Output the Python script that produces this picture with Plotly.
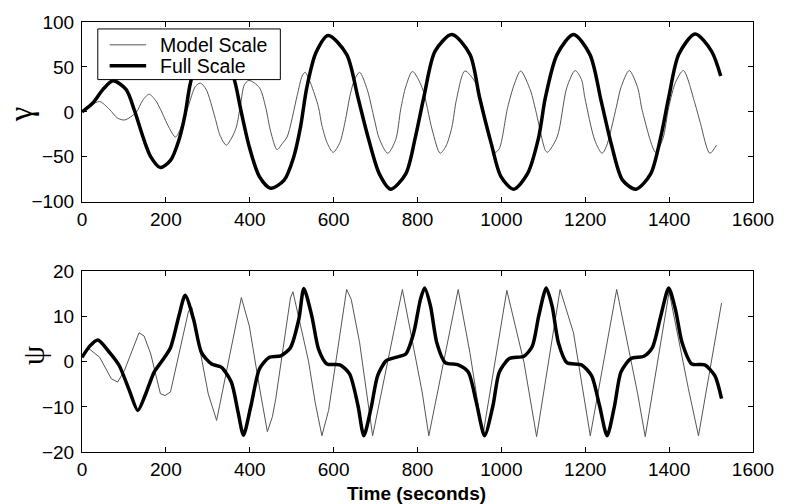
import plotly.graph_objects as go
from plotly.subplots import make_subplots

# ---------------- data ----------------
full_gamma_t = [0, 27, 50, 74, 105, 125, 148, 164, 187, 211, 231, 246, 258, 280, 311, 340,
                364, 379, 399, 423, 450, 482, 505, 521, 536, 558, 587, 631, 658, 682, 709,
                736, 772, 795, 815, 842, 882, 925, 948, 976, 999, 1029, 1062, 1089, 1105,
                1133, 1172, 1211, 1238, 1262, 1289, 1321, 1356, 1380, 1399, 1423, 1462,
                1501, 1523]
full_gamma = [0, 10.5, 25, 34.5, 25, 1.6, -31.5, -50, -62, -54, -31.5, -2.4, 31, 65, 78, 65,
              34.5, 1.6, -39, -72, -85, -76, -50, -17, 27, 66, 85, 64, 16, -28, -69,
              -86, -69, -28, 16, 67.6, 86, 64, 16, -35.6, -72, -86, -69, -28, 16,
              64, 86, 64, 12, -35.6, -76, -86, -69, -28, 16, 64, 86.7,
              67.6, 40]

model_gamma_t = [0, 20, 42, 65, 85, 102, 129, 145, 160, 175, 187, 207, 223, 238, 254, 270,
                 282, 296, 317, 329, 344, 358, 368, 378, 387, 398, 423, 438, 450, 465, 478,
                 489, 513, 525, 532, 545, 564, 572, 585, 599, 615, 627, 640, 650, 662, 680,
                 697, 709, 729, 748, 760, 772, 788, 811, 835, 854, 868, 882, 893, 913, 940,
                 968, 985, 995, 1015, 1031, 1046, 1070, 1082, 1105, 1110, 1133, 1156, 1176,
                 1191, 1199, 1223, 1240, 1250, 1274, 1285, 1305, 1325, 1336, 1368, 1385,
                 1399, 1415, 1434, 1462, 1474, 1497, 1513]
model_gamma = [0, 7, 11.5, 3, -7, -9, -0.5, 13, 19.7, 13, 3, -17, -28, -15, 7, 28,
               32, 25, -6, -26, -37, -28, -17, 8, 30, 35, 27, 5, -22, -42, -35,
               -28, 18, 40, 44, 32, 5, -15, -35, -45, -34, -11.6, 20, 36, 44, 25,
               -8, -30, -46, -31, 3, 28, 45, 27, -20, -46, -38, -17, 14, 45.5, 31,
               -20, -45, -41, 5, 31, 45.5, 23, 1.3, -43, -45, -28, 27, 46,
               36, 16, -32, -46, -39, 5, 27, 46, 27, 1.3, -45, -30,
               5, 32.6, 46, 8.6, -11.6, -46, -37]

full_psi_t = [0, 19, 38, 66, 89, 113, 133, 152, 172, 191, 211, 231, 246, 266, 285, 309, 332,
              356, 372, 385, 403, 423, 446, 474, 497, 517, 529, 548, 564, 584, 615, 638,
              658, 672, 689, 705, 725, 748, 772, 791, 807, 817, 831, 846, 866, 897, 921,
              940, 960, 980, 995, 1019, 1054, 1074, 1089, 1107, 1121, 1136, 1156, 1191,
              1215, 1234, 1252, 1270, 1285, 1309, 1340, 1360, 1380, 1399, 1415, 1431,
              1454, 1485, 1509, 1525]
full_psi = [0.95, 3.5, 4.8, 2, -0.9, -6.4, -10.8, -7.1, -2.3, 0.2, 3.1, 10.1, 14.7, 9.4, 2, -0.5, -1.2,
            -4.5, -11.1, -16.3, -9.7, -1.6, 0.95, 1.3, 3.1, 9.4, 16.2, 10.1, 2.8, -0.5, -0.7, -2.7,
            -9.7, -16.4, -10.4, -3.1, 0.2, 0.95, 1.7, 6.4, 13.8, 16.3, 12.3, 4.2, -0.2, -0.7, -2.3,
            -8.9, -16.4, -9.7, -2.3, 0.7, 1.2, 3.5, 10.1, 16.3, 12.3, 4.2, -0.2, -0.7,
            -3.1, -9.7, -16.4, -9.7, -2.3, 0.7, 1.2, 3.1, 10.1, 16.3, 11.6, 4.2,
            -0.5, -0.7, -3.1, -8.2]

model_psi_t = [0, 15, 42, 70, 85, 101, 136, 148, 164, 187, 198, 211, 254, 262, 301, 321,
               380, 399, 423, 442, 454, 462, 497, 503, 540, 556, 572, 588, 631, 642, 662,
               693, 764, 811, 827, 897, 925, 956, 1013, 1054, 1084, 1140, 1172, 1212,
               1275, 1325, 1343, 1400, 1446, 1470, 1525]
model_psi = [1, 3, 1, -3.8, -4.5, -2, 6.4, 5.7, 1.7, -7.1, -7.5, -6.7, 11.2, 12, -7.1, -13,
             14.2, 7.9, -5.6, -15.5, -12.2, -8.2, 14.1, 15.5, 0.2, -9, -16.4, -10.8, 16, 13.8, 4.2,
             -16.4, 16, -6.7, -16.4, 16, 2, -16.3, 15.8, -0.2, -16.6, 16, 6.4, -16.4,
             16, -7.1, -16.6, 15.5, -6, -16.4, 13]

series_names = ["Model Scale", "Full Scale"]
x_ticks = [0, 200, 400, 600, 800, 1000, 1200, 1400, 1600]
gamma_ticks = [-100, -50, 0, 50, 100]
psi_ticks = [-20, -10, 0, 10, 20]

# ---------------- figure ----------------
FONT = "Liberation Sans, Arial, sans-serif"
MODEL_STYLE = dict(color="#555555", width=1)
FULL_STYLE = dict(color="black", width=3.5)

fig = make_subplots(rows=2, cols=1)

fig.add_trace(go.Scatter(x=model_gamma_t, y=model_gamma, mode="lines", name=series_names[0],
                         line=dict(**MODEL_STYLE, shape="spline", smoothing=0.8)),
              row=1, col=1)
fig.add_trace(go.Scatter(x=full_gamma_t, y=full_gamma, mode="lines", name=series_names[1],
                         line=dict(**FULL_STYLE, shape="spline", smoothing=0.8)),
              row=1, col=1)
fig.add_trace(go.Scatter(x=model_psi_t, y=model_psi, mode="lines", name=series_names[0],
                         line=dict(**MODEL_STYLE)),
              row=2, col=1)
fig.add_trace(go.Scatter(x=full_psi_t, y=full_psi, mode="lines", name=series_names[1],
                         line=dict(**FULL_STYLE, shape="spline", smoothing=0.7)),
              row=2, col=1)

axis_common = dict(showline=True, linecolor="black", linewidth=1, mirror="ticks",
                   ticks="inside", ticklen=5, tickcolor="black", showgrid=False,
                   zeroline=False, tickfont=dict(family=FONT, size=19, color="black"))

fig.update_xaxes(range=[0, 1600], tickvals=x_ticks, **axis_common)
fig.update_yaxes(ticklabelstandoff=3, **axis_common)
fig.update_yaxes(range=[-100, 100], tickvals=gamma_ticks, domain=[0.582, 1.0], row=1, col=1)
fig.update_yaxes(range=[-20, 20], tickvals=psi_ticks, domain=[0.0, 0.420], row=2, col=1)

# plot area in pixels: x 82..762, y 19..452 -> paper coords
def px(x):
    return (x - 82) / 680


def py(y):
    return (452 - y) / 433


# rotated y-axis labels
fig.add_annotation(text="γ", xref="paper", yref="paper", x=px(21), y=py(112),
                   xanchor="center", yanchor="middle", textangle=-90, showarrow=False,
                   font=dict(family="Liberation Serif, serif", size=33, color="black"))
fig.add_annotation(text="ψ", xref="paper", yref="paper", x=px(33), y=py(355),
                   xanchor="center", yanchor="middle", textangle=-90, showarrow=False,
                   font=dict(family="Liberation Serif, serif", size=31, color="black"))
fig.add_annotation(text="<b>Time (seconds)</b>", xref="paper", yref="paper",
                   x=px(421), y=py(494), xanchor="center", yanchor="middle",
                   showarrow=False, font=dict(family=FONT, size=19, color="black"))

# legend box (compact, as in the reference)
fig.add_shape(type="rect", xref="paper", yref="paper", x0=px(98), x1=px(283), y0=py(77), y1=py(26),
              fillcolor="white", line=dict(color="black", width=1), layer="above")
fig.add_shape(type="line", xref="paper", yref="paper", x0=px(110), x1=px(147), y0=py(42), y1=py(42),
              line=MODEL_STYLE, layer="above")
fig.add_shape(type="line", xref="paper", yref="paper", x0=px(110), x1=px(147), y0=py(63), y1=py(63),
              line=FULL_STYLE, layer="above")
for name, yy in zip(series_names, [42, 63]):
    fig.add_annotation(text=name, xref="paper", yref="paper", x=px(159), y=py(yy),
                       xanchor="left", yanchor="middle", showarrow=False,
                       font=dict(family=FONT, size=19.5, color="black"))

fig.update_layout(
    width=786, height=504,
    margin=dict(l=82, r=24, t=19, b=52),
    paper_bgcolor="white", plot_bgcolor="white",
    showlegend=False,
)

fig.write_html("out.html", post_script="document.body.style.margin='0';",
               config={"displayModeBar": False})
